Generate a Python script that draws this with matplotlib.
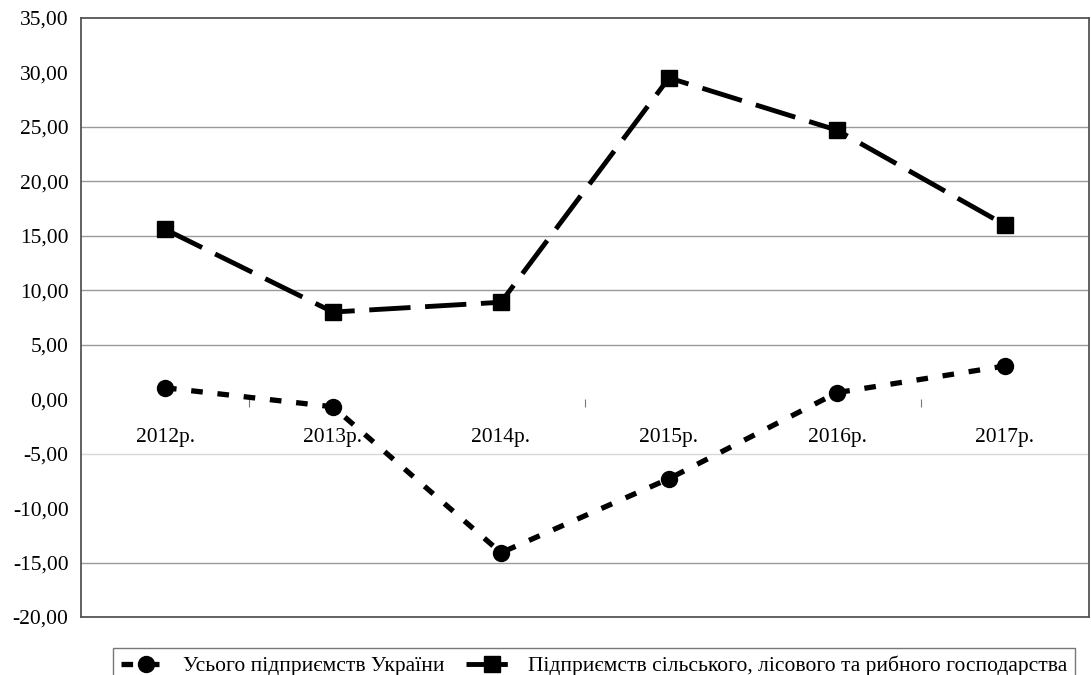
import matplotlib.pyplot as plt
from matplotlib.ticker import FuncFormatter

plt.rcParams['font.family'] = ['Liberation Serif', 'DejaVu Serif']

years = ['2012р.', '2013р.', '2014р.', '2015р.', '2016р.', '2017р.']
all_ukraine = [1.05, -0.7, -14.1, -7.3, 0.6, 3.05]
agro = [15.6, 8.0, 8.9, 29.5, 24.7, 16.0]
label_all = 'Усього підприємств України'
label_agro = 'Підприємств сільського, лісового та рибного господарства'

fig = plt.figure(figsize=(10.91, 6.75), dpi=100)
ax = fig.add_axes([81 / 1091, 1 - 617 / 675, 1008 / 1091, 599 / 675])

x = list(range(len(years)))
ax.plot(x, all_ukraine, color='black', lw=3.8, linestyle=(0, (2.2, 2.8)),
        marker='o', markersize=11.5, label=label_all)
ax.plot(x, agro, color='black', lw=3.5, linestyle=(0, (8.5, 3.0)),
        marker='s', markersize=11.5, label=label_agro)

ax.set_xlim(-0.5, len(years) - 0.5)
ax.set_ylim(-20, 35)
ax.set_yticks(range(-20, 36, 5))
ax.yaxis.set_major_formatter(FuncFormatter(lambda v, p: f'{v:.2f}'.replace('.', ',')))
ax.tick_params(axis='y', length=0, labelsize=15.5, pad=9)

# horizontal grid lines that are visible in the original
for g in [25, 20, 15, 10, 5, -15]:
    ax.axhline(g, color='#9a9a9a', lw=1.0, zorder=0)
ax.axhline(-5, color='#d8d8d8', lw=1.0, zorder=0)

# category axis sits at y = 0
ax.set_xticks([])
sec = ax.secondary_xaxis(20 / 55)
sec.spines['bottom'].set_visible(False)
sec.set_xticks(x)
sec.set_xticklabels(years)
sec.set_xticks([0.5, 2.5, 4.5], minor=True)
sec.tick_params(axis='x', which='major', length=0, labelsize=15.5, pad=21)
sec.tick_params(axis='x', which='minor', length=6, width=0.8, color='#777777')

for s in ax.spines.values():
    s.set_color('#555555')
    s.set_linewidth(1.3)

fig.legend(loc='upper left', bbox_to_anchor=(113 / 1091, 1 - 648 / 675),
           ncol=2, frameon=True, fancybox=False, edgecolor='#555555',
           fontsize=15.5, handlelength=2.4, columnspacing=1.0,
           borderaxespad=0, borderpad=0.35, handletextpad=0.5)

fig.savefig('out.png', dpi=100)
